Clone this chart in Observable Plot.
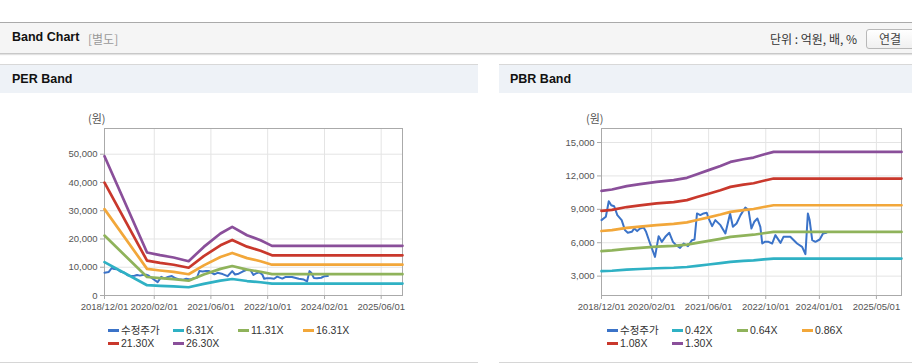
<!DOCTYPE html>
<html><head><meta charset="utf-8">
<script src="https://cdn.jsdelivr.net/npm/d3@7"></script>
<script src="https://cdn.jsdelivr.net/npm/@observablehq/plot@0.6"></script>
<style>
body{margin:0;width:912px;height:364px;position:relative;overflow:hidden;background:#fff;font-family:"Liberation Sans","Noto Sans CJK KR",sans-serif;color:#222;}
.abs{position:absolute;}
#topbar{left:0;top:22px;width:912px;height:30px;background:#f5f5f5;border-top:1px solid #aaa;border-bottom:1px solid #c8c8c8;box-shadow:0 1px 1px #e2e2e2;}
.ttl{font-weight:bold;font-size:12.5px;color:#111;}
.phead{top:64px;height:28px;background:#eef2f7;border-top:1px solid #d8d8d8;}
.pbox{top:93px;height:269px;border-bottom:1px solid #d6d6d6;background:#fff;}
.unit{font-size:12px;color:#333;font-family:"Noto Sans CJK KR","Liberation Sans",sans-serif;}
.btn{left:866px;top:29px;width:60px;height:18px;border:1px solid #b8b8b8;border-radius:3px;background:linear-gradient(#fff,#f0f0f0);}
.ylab{font-size:11px;color:#555;font-family:"Noto Sans CJK KR",sans-serif;}
.leg{font-size:10.5px;color:#333;}
.li{position:absolute;white-space:nowrap;line-height:12px;}
.sw{display:inline-block;width:11px;height:3px;vertical-align:middle;margin-right:2px;position:relative;top:-1px;}
</style></head><body>
<script>
// ---- data ----
const priceDates = ["2018-12-01","2019-01-07","2019-02-01","2019-02-22","2019-03-19","2019-04-15","2019-05-22","2019-06-19","2019-07-13","2019-08-16","2019-09-07","2019-10-01","2019-10-25","2019-11-25","2019-12-16","2020-01-19","2020-03-01","2020-04-01","2020-04-28","2020-05-28","2020-07-01","2020-08-01","2020-08-28","2020-10-01","2020-11-01","2020-12-07","2021-01-10","2021-02-01","2021-02-22","2021-03-22","2021-04-19","2021-05-16","2021-06-01","2021-07-01","2021-07-28","2021-09-10","2021-10-22","2021-12-01","2021-12-25","2022-01-25","2022-02-28","2022-04-10","2022-05-07","2022-06-01","2022-06-25","2022-07-22","2022-08-16","2022-09-01","2022-09-22","2022-10-25","2022-11-25","2022-12-22","2023-02-04","2023-03-01","2023-04-28","2023-06-25","2023-08-07","2023-09-04","2023-09-25","2023-10-10","2023-11-01","2023-11-28","2024-01-04","2024-02-01","2024-03-01"];
const priceValues = [8030,8330,9730,9370,9280,8480,8030,7130,6890,6980,7280,7040,7280,7370,6980,5930,4730,6590,6080,6530,6890,6080,5780,5540,5930,5690,6230,6290,8630,8480,8630,8690,8180,7490,8030,7580,6830,8630,7430,7730,8480,9160,8930,7280,7880,8180,7430,5930,6080,6080,5930,6680,5990,6530,6530,5930,5630,4970,8630,8030,6230,6080,6290,6830,6890];

const perDates = ["2018-12-01","2019-12-01","2020-03-22","2020-07-16","2020-11-22","2021-04-01","2021-08-22","2021-12-01","2022-04-07","2022-08-01","2022-11-07","2025-12-01"];
const per631  = [11828,3649,3424,3224,2913,4127,5261,5828,5120,4695,4216,4216];
const per1131 = [21201,6541,6137,5779,5221,7397,9430,10446,9177,8416,7556,7556];
const per1631 = [30573,9432,8850,8334,7529,10667,13599,15064,13234,12136,10897,10897];
const per2130 = [39927,12318,11557,10884,9832,13930,17760,19673,17283,15849,14231,14231];
const per2630 = [49300,15209,14270,13439,12140,17200,21929,24291,21340,19570,17571,17571];

const pbrDates = ["2018-12-01","2019-02-28","2019-07-04","2019-10-25","2020-03-15","2020-08-07","2020-11-28","2021-02-22","2021-06-01","2021-09-10","2021-12-04","2022-03-25","2022-06-19","2022-09-13","2022-12-07","2025-12-01"];
const pbr042 = [3444,3483,3580,3638,3706,3754,3822,3929,4045,4168,4284,4362,4410,4497,4575,4575];
const pbr064 = [5248,5307,5455,5544,5647,5720,5824,5986,6164,6351,6528,6646,6720,6853,6971,6971];
const pbr086 = [7052,7131,7330,7449,7588,7687,7826,8044,8283,8534,8772,8931,9030,9209,9367,9367];
const pbr108 = [8856,8955,9205,9355,9529,9653,9828,10102,10401,10717,11016,11215,11340,11564,11764,11764];
const pbr130 = [10660,10780,11080,11260,11470,11620,11830,12160,12520,12900,13260,13500,13650,13920,14160,14160];

const perSeries = ["수정주가","6.31X","11.31X","16.31X","21.30X","26.30X"];
const pbrSeries = ["수정주가","0.42X","0.64X","0.86X","1.08X","1.30X"];
const seriesColors = ["#3b73c8","#2fb1c4","#8fb35b","#f2a73a","#c9382c","#8a4f9a"];

const perTicksX = ["2018-12-01","2020-02-01","2021-06-01","2022-10-01","2024-02-01","2025-06-01"];
const pbrTicksX = ["2018-12-01","2020-02-01","2021-06-01","2022-10-01","2024-01-01","2025-05-01"];
const perTicksY = [0,10000,20000,30000,40000,50000];
const pbrTicksY = [3000,6000,9000,12000,15000];
const xDomain = ["2018-12-01","2025-12-01"];
const perYDomain = [0,59100];
const pbrYDomain = [1260,16260];
</script>

<div id="topbar" class="abs"></div>
<div class="abs ttl" style="left:12px;top:30px;">Band Chart</div>
<div class="abs" style="left:88px;top:31px;font-size:12px;color:#999;font-family:'Noto Sans CJK KR',sans-serif;line-height:15px;">[별도]</div>
<div class="abs unit" style="left:770px;top:30px;line-height:17px;">단위 : 억원, 배, %</div>
<div class="abs btn"></div>
<div class="abs unit" style="left:879px;top:30px;line-height:17px;color:#444;">연결</div>

<div class="abs phead" style="left:0;width:478px;"></div>
<div class="abs phead" style="left:499px;width:413px;"></div>
<div class="abs ttl" style="left:12px;top:72px;">PER Band</div>
<div class="abs ttl" style="left:510px;top:72px;">PBR Band</div>
<div class="abs pbox" style="left:0;width:478px;"></div>
<div class="abs pbox" style="left:499px;width:413px;"></div>

<div class="abs ylab" style="left:88px;top:110px;">(원)</div>
<div class="abs ylab" style="left:586px;top:110px;">(원)</div>

<div id="per" class="abs" style="left:0;top:100px;"></div>
<div id="pbr" class="abs" style="left:499px;top:100px;"></div>
<div id="perleg" class="abs leg" style="left:108px;top:324px;width:300px;height:30px;"></div>
<div id="pbrleg" class="abs leg" style="left:607px;top:324px;width:300px;height:30px;"></div>

<script>
const P = d => new Date(d + "T00:00:00Z");
function rows(dates, vals, name){ return dates.map((d,i)=>({date:P(d), value:vals[i], series:name})); }

function makeChart(el, opts){
  const {width, ml, mr, ticksX, ticksY, yDomain, bands, price, series} = opts;
  const chart = Plot.plot({
    width, height:215, marginLeft:ml, marginRight:mr, marginTop:28, marginBottom:20,
    style:{fontFamily:"'Liberation Sans',sans-serif", fontSize:"9.5px", background:"transparent", overflow:"visible"},
    x:{type:"utc", domain:xDomain.map(P)},
    y:{domain:yDomain},
    color:{domain:series, range:seriesColors},
    marks:[
      Plot.gridX(ticksX.map(P), {stroke:"#e4e4e4", strokeOpacity:1}),
      Plot.gridY(ticksY, {stroke:"#e4e4e4", strokeOpacity:1}),
      Plot.frame({stroke:"#aaaaaa"}),
      Plot.axisX(ticksX.map(P), {tickFormat:d3.utcFormat("%Y/%m/%d"), tickSize:4, tickPadding:4, stroke:"#aaa", color:"#555", label:null}),
      Plot.axisY(ticksY, {tickFormat:d3.format(","), tickSize:4, tickPadding:3, stroke:"#aaa", color:"#555", label:null}),
      Plot.line(price, {x:"date", y:"value", stroke:"series", strokeWidth:2, strokeLinejoin:"round"}),
      Plot.line(bands, {x:"date", y:"value", z:"series", stroke:"series", strokeWidth:2.7, strokeLinejoin:"round"})
    ]
  });
  document.getElementById(el).appendChild(chart);
}

const perBands = [].concat(rows(perDates,per631,perSeries[1]),rows(perDates,per1131,perSeries[2]),rows(perDates,per1631,perSeries[3]),rows(perDates,per2130,perSeries[4]),rows(perDates,per2630,perSeries[5]));
const pbrBands = [].concat(rows(pbrDates,pbr042,pbrSeries[1]),rows(pbrDates,pbr064,pbrSeries[2]),rows(pbrDates,pbr086,pbrSeries[3]),rows(pbrDates,pbr108,pbrSeries[4]),rows(pbrDates,pbr130,pbrSeries[5]));

makeChart("per", {width:478, ml:104, mr:76, ticksX:perTicksX, ticksY:perTicksY, yDomain:perYDomain, bands:perBands, price:rows(priceDates,priceValues,perSeries[0]), series:perSeries});
makeChart("pbr", {width:413, ml:102, mr:11, ticksX:pbrTicksX, ticksY:pbrTicksY, yDomain:pbrYDomain, bands:pbrBands, price:rows(priceDates,priceValues,pbrSeries[0]), series:pbrSeries});

function legend(el, series){
  const box = document.getElementById(el);
  series.forEach((s,i)=>{
    const d = document.createElement("div");
    d.className = "li";
    d.style.left = (i%4)*65 + "px";
    d.style.top = Math.floor(i/4)*13 + "px";
    d.innerHTML = `<span class="sw" style="background:${seriesColors[i]}"></span>${s}`;
    box.appendChild(d);
  });
}
legend("perleg", perSeries);
legend("pbrleg", pbrSeries);
</script>
</body></html>
